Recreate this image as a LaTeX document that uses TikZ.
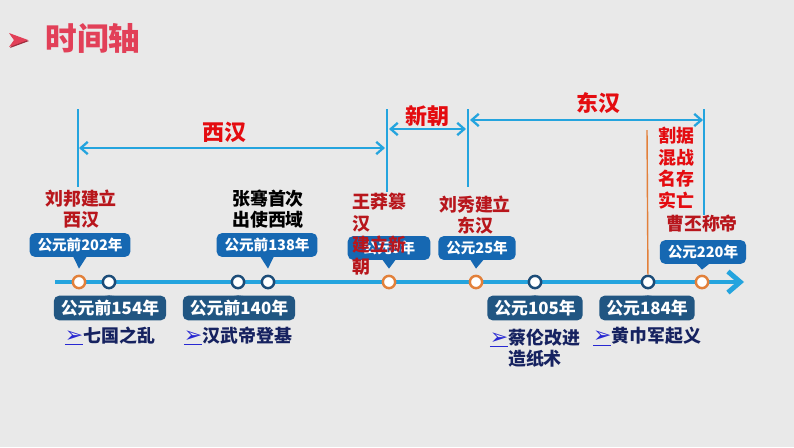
\documentclass[tikz,border=0pt]{standalone}
\usepackage{fontspec}
\setmainfont{Noto Sans CJK SC}
\newfontfamily\symfont{DejaVu Sans}
\usetikzlibrary{arrows.meta}
\usetikzlibrary{calc}
\usetikzlibrary{positioning}
\definecolor{paper}{RGB}{233,233,233}
\definecolor{lineblue}{RGB}{36,164,222}
\definecolor{upblue}{RGB}{22,104,178}
\definecolor{lowblue}{RGB}{33,86,130}
\definecolor{dotblue}{RGB}{28,76,120}
\definecolor{dotorange}{RGB}{226,128,58}
\definecolor{brightred}{RGB}{228,12,16}
\definecolor{darkred}{RGB}{184,22,28}
\definecolor{navy}{RGB}{22,34,96}
\definecolor{titlered}{RGB}{226,64,88}
\definecolor{linkblue}{RGB}{40,40,210}

\begin{document}
\begin{tikzpicture}[x=0.02cm,y=-0.02cm,
	evt/.style={circle,draw=dotblue,fill=white,line width=1.4pt,inner sep=0pt,minimum size=7pt},
	bigevt/.style={evt,draw=dotorange},
	upbox/.style={fill=upblue,text=white,rounded corners=3pt,inner xsep=4.5pt,inner ysep=0pt,
	              minimum height=13.5pt,font=\bfseries\fontsize{8.3}{10}\selectfont},
	lowbox/.style={fill=lowblue,text=white,rounded corners=3pt,inner xsep=4pt,inner ysep=0pt,
	               minimum height=14pt,font=\bfseries\fontsize{9.6}{11}\selectfont},
	redlabel/.style={text=darkred,align=center,inner sep=0pt,font=\bfseries\fontsize{10.2}{12.2}\selectfont},
	navylabel/.style={text=navy,align=center,inner sep=0pt,font=\bfseries\fontsize{10.2}{12}\selectfont},
	period/.style={text=brightred,inner sep=0pt,font=\bfseries\fontsize{12.5}{14}\selectfont},
	bar/.style={draw=lineblue,line width=1.3pt},
	span/.style={draw=lineblue,line width=1.3pt,{Straight Barb[length=4pt,width=7pt]}-{Straight Barb[length=4pt,width=7pt]}}]

	% paper
	\fill[paper] (0,0) rectangle (794,447);
	\useasboundingbox (0,0) rectangle (794,447);

	% title
	\fill[titlered!70!black] (10,34) -- (29,41) -- (10,48) -- (15,41) -- cycle;
	\fill[titlered] (9,33) -- (28,40) -- (9,47) -- (14,40) -- cycle;
	\node[text=titlered,inner sep=0pt,font=\bfseries\fontsize{18}{18}\selectfont] (title) at (93,38) {时间轴};

	% main axis
	\coordinate (axl) at (55,282);
	\coordinate (axr) at (744,282);
	\draw[draw=lineblue,line width=2.8pt,-{Straight Barb[length=7pt,width=12pt]}] (axl) -- (axr);

	% vertical marks
	\coordinate (m1t) at (78,109);  \coordinate (m1b) at (78,187);
	\coordinate (m2t) at (387,109); \coordinate (m2b) at (387,192);
	\coordinate (m3t) at (468,109); \coordinate (m3b) at (468,187);
	\coordinate (m4t) at (704,109); \coordinate (m4b) at (704,215);
	\coordinate (split) at (647,130);
	\path[bar] (m1t) -- (m1b);
	\path[bar] (m2t) -- (m2b);
	\path[bar] (m3t) -- (m3b);
	\path[bar] (m4t) -- (m4b);

	% periods
	\coordinate (xh1) at (79,148);  \coordinate (xh2) at (385,148);
	\coordinate (xc1) at (389,129); \coordinate (xc2) at (466,129);
	\coordinate (dh1) at (470,120); \coordinate (dh2) at (703,120);
	\path[span] (xh1) -- (xh2);
	\path[span] (xc1) -- (xc2);
	\path[span] (dh1) -- (dh2);
	\node[period] (xihan) at (224,132) {西汉};
	\node[period] (xinchao) at (427,116) {新朝};
	\node[period] (donghan) at (598,103) {东汉};

	% events on the axis
	\node[bigevt] (c202) at (79,282) {};
	\node[evt] (c154) at (109,282) {};
	\node[evt] (c140) at (238,282) {};
	\node[evt] (c138) at (268,282) {};
	\node[bigevt] (c9) at (389,282) {};
	\node[bigevt] (c25) at (476,282) {};
	\node[evt] (c105) at (535,282) {};
	\node[evt] (c184) at (648,282) {};
	\node[bigevt] (c220) at (702,282) {};
	\draw[draw=dotorange,line width=0.8pt] (split) -- (c184);

	% boxes above
	\node[upbox] (b202) at (80,245) {公元前202年};
	\node[upbox] (b138) at (267,245) {公元前138年};
	\node[upbox,minimum width=47pt] (b9) at (389,248) {公元9年};
	\node[upbox] (b25) at (477,248) {公元25年};
	\node[upbox] (b220) at (703,252) {公元220年};
	\fill[upblue] ($(b202.south)+(-7,-1)$) -- ($(c202.north)+(0,-6)$) -- ($(b202.south)+(7,-1)$) -- cycle;
	\fill[upblue] ($(b138.south)+(-7,-1)$) -- ($(c138.north)+(0,-6)$) -- ($(b138.south)+(7,-1)$) -- cycle;
	\fill[upblue] ($(b9.south)+(-7,-1)$) -- ($(c9.north)+(0,-6)$) -- ($(b9.south)+(7,-1)$) -- cycle;
	\fill[upblue] ($(b25.south)+(-7,-1)$) -- ($(c25.north)+(0,-6)$) -- ($(b25.south)+(7,-1)$) -- cycle;
	\fill[upblue] ($(b220.south)+(-7,-1)$) -- ($(c220.north)+(0,-5)$) -- ($(b220.south)+(7,-1)$) -- cycle;

	% boxes below
	\node[lowbox] (b154) at (110,308) {公元前154年};
	\node[lowbox] (b140) at (239,308) {公元前140年};
	\node[lowbox] (b105) at (535,308) {公元105年};
	\node[lowbox] (b184) at (647,308) {公元184年};
	\fill[lowblue] ($(b154.north)+(-7,1)$) -- ($(c154.south)+(0,6)$) -- ($(b154.north)+(7,1)$) -- cycle;
	\fill[lowblue] ($(b140.north)+(-7,1)$) -- ($(c140.south)+(0,6)$) -- ($(b140.north)+(7,1)$) -- cycle;
	\fill[lowblue] ($(b105.north)+(-7,1)$) -- ($(c105.south)+(0,6)$) -- ($(b105.north)+(7,1)$) -- cycle;
	\fill[lowblue] ($(b184.north)+(-7,1)$) -- ($(c184.south)+(0,6)$) -- ($(b184.north)+(7,1)$) -- cycle;

	% texts above
	\node[redlabel] (liubang) at (81,209) {刘邦建立\\西汉};
	\node[redlabel,text=black] (zhangqian) at (268,209) {张骞首次\\出使西域};
	\node[redlabel,align=left,anchor=north west] (wangmang) at (352,193) {王莽篡\\汉\\建立新\\朝};
	\node[redlabel] (liuxiu) at (475,215) {刘秀建立\\东汉};
	\node[redlabel,text=brightred,align=left] (geju) at (676,168) {割据\\混战\\名存\\实亡};
	\node[redlabel] (caopi) at (702,224) {曹丕称帝};

	% texts below
	\node[navylabel] (qiguo) at (110,336) {{\symfont\fontsize{12.5}{12}\selectfont\color{linkblue}\underline{➢}}七国之乱};
	\node[navylabel] (wudi) at (238,336) {{\symfont\fontsize{12.5}{12}\selectfont\color{linkblue}\underline{➢}}汉武帝登基};
	\node[navylabel] (cailun) at (535,348) {{\symfont\fontsize{12.5}{12}\selectfont\color{linkblue}\underline{➢}}蔡伦改进\\造纸术};
	\node[navylabel] (huangjin) at (647,337) {{\symfont\fontsize{12.5}{12}\selectfont\color{linkblue}\underline{➢}}黄巾军起义};
\end{tikzpicture}
\end{document}
